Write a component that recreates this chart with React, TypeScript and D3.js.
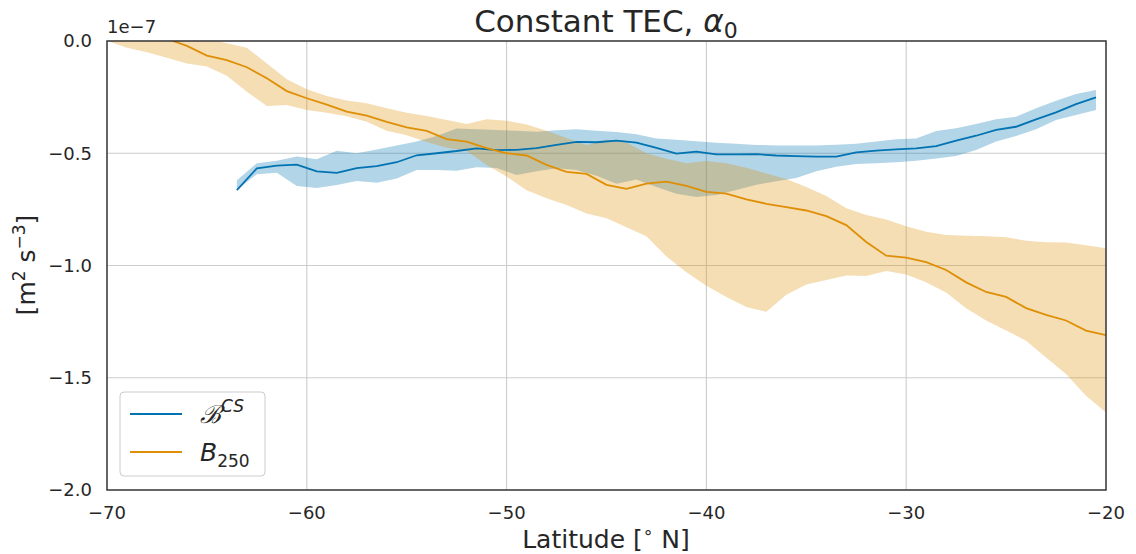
import React from 'react';
import * as d3 from 'd3';

// Latitude grids
const latOrange: number[] = d3.range(-70, -19.5, 1);
const latBlue: number[] = d3.range(-63.5, -20, 1);

// B^CS mean and band (units of 1e-7)
const blueMean: number[] = [
  -0.664, -0.567, -0.555, -0.551, -0.581, -0.587, -0.566, -0.557, -0.54, -0.509,
  -0.5, -0.49, -0.478, -0.486, -0.485, -0.477, -0.463, -0.449, -0.451, -0.444,
  -0.453, -0.476, -0.502, -0.493, -0.505, -0.505, -0.504, -0.51, -0.513, -0.515,
  -0.515, -0.496, -0.488, -0.483, -0.478, -0.468, -0.444, -0.422, -0.396, -0.382,
  -0.349, -0.318, -0.281, -0.251,
];
const blueUpper: number[] = [
  -0.62, -0.545, -0.533, -0.515, -0.527, -0.489, -0.5, -0.483, -0.466, -0.448,
  -0.423, -0.39, -0.393, -0.396, -0.4, -0.404, -0.398, -0.393, -0.4, -0.405,
  -0.415, -0.434, -0.44, -0.446, -0.453, -0.458, -0.463, -0.465, -0.466, -0.465,
  -0.462, -0.458, -0.448, -0.438, -0.434, -0.401, -0.389, -0.37, -0.349, -0.337,
  -0.3, -0.266, -0.236, -0.218,
];
const blueLower: number[] = [
  -0.664, -0.593, -0.587, -0.646, -0.655, -0.641, -0.624, -0.631, -0.613, -0.575,
  -0.575, -0.578, -0.562, -0.566, -0.597, -0.58, -0.567, -0.575, -0.6, -0.636,
  -0.617, -0.65, -0.68, -0.695, -0.686, -0.664, -0.64, -0.625, -0.61, -0.58,
  -0.56, -0.548, -0.545, -0.54, -0.533, -0.523, -0.512, -0.486, -0.448, -0.423,
  -0.393, -0.352, -0.33, -0.307,
];

// B_250 mean and band
const orangeMean: number[] = [
  0.08, 0.06, 0.04, 0.01, -0.022, -0.065, -0.085, -0.117, -0.166, -0.223,
  -0.255, -0.283, -0.315, -0.332, -0.36, -0.385, -0.4, -0.437, -0.448, -0.477,
  -0.5, -0.51, -0.552, -0.583, -0.592, -0.641, -0.659, -0.635, -0.626, -0.645,
  -0.672, -0.68, -0.705, -0.725, -0.74, -0.755, -0.78, -0.82, -0.895, -0.956,
  -0.965, -0.985, -1.02, -1.075, -1.118, -1.14, -1.19, -1.22, -1.245, -1.29,
  -1.31,
];
const orangeUpper: number[] = [
  0.1, 0.1, 0.1, 0.08, 0.04, 0.01, -0.01, -0.03, -0.1, -0.17,
  -0.215, -0.245, -0.265, -0.277, -0.3, -0.32, -0.334, -0.352, -0.37, -0.349,
  -0.355, -0.372, -0.4, -0.432, -0.463, -0.44, -0.452, -0.5, -0.525, -0.545,
  -0.535, -0.545, -0.565, -0.59, -0.615, -0.65, -0.69, -0.745, -0.775, -0.795,
  -0.825, -0.85, -0.864, -0.868, -0.87, -0.874, -0.89, -0.896, -0.898, -0.91,
  -0.923,
];
const orangeLower: number[] = [
  0.0, -0.03, -0.05, -0.075, -0.1, -0.114, -0.155, -0.226, -0.29, -0.285,
  -0.307, -0.32, -0.335, -0.36, -0.4, -0.42, -0.45, -0.475, -0.49, -0.552,
  -0.604, -0.665, -0.7, -0.73, -0.768, -0.79, -0.83, -0.87, -0.96, -1.03,
  -1.09, -1.14, -1.185, -1.206, -1.13, -1.085, -1.065, -1.045, -1.047, -1.025,
  -1.04, -1.075, -1.12, -1.19, -1.245, -1.29, -1.335, -1.41, -1.483, -1.58,
  -1.655,
];

const xTicks: number[] = [-70, -60, -50, -40, -30, -20];
const yTicks: number[] = [0, -0.5, -1.0, -1.5, -2.0];

const BLUE = '#0173b2';
const ORANGE = '#de8f05';
const TEXT = '#262626';
const FONT = '"DejaVu Sans", sans-serif';

type Pt = { x: number; m: number; lo: number; hi: number };

export default function App() {
  const width = 1136;
  const height = 554;
  const left = 107;
  const right = 1106;
  const top = 41;
  const bottom = 490;

  const x = d3.scaleLinear().domain([-70, -20]).range([left, right]);
  const y = d3.scaleLinear().domain([-2, 0]).range([bottom, top]);

  const blue: Pt[] = latBlue.map((l, i) => ({ x: l, m: blueMean[i], lo: blueLower[i], hi: blueUpper[i] }));
  const orange: Pt[] = latOrange.map((l, i) => ({ x: l, m: orangeMean[i], lo: orangeLower[i], hi: orangeUpper[i] }));

  const area = d3
    .area<Pt>()
    .x((d) => x(d.x))
    .y0((d) => y(d.lo))
    .y1((d) => y(d.hi));
  const line = d3
    .line<Pt>()
    .x((d) => x(d.x))
    .y((d) => y(d.m));

  return (
    <svg
      width={width}
      height={height}
      style={{ position: 'absolute', left: 0, top: 0, background: '#fff' }}
      fontFamily={FONT}
    >
      <defs>
        <clipPath id='plot'>
          <rect x={left} y={top} width={right - left} height={bottom - top} />
        </clipPath>
      </defs>

      {/* grid */}
      {xTicks.slice(1, -1).map((t) => (
        <line key={'gx' + t} x1={x(t)} x2={x(t)} y1={top} y2={bottom} stroke='#cccccc' strokeWidth={1.1} />
      ))}
      {yTicks.slice(1, -1).map((t) => (
        <line key={'gy' + t} x1={left} x2={right} y1={y(t)} y2={y(t)} stroke='#cccccc' strokeWidth={1.1} />
      ))}

      <g clipPath='url(#plot)'>
        <path d={area(blue) ?? ''} fill={BLUE} fillOpacity={0.3} />
        <path d={area(orange) ?? ''} fill={ORANGE} fillOpacity={0.3} />
        <path d={line(blue) ?? ''} fill='none' stroke={BLUE} strokeWidth={1.8} />
        <path d={line(orange) ?? ''} fill='none' stroke={ORANGE} strokeWidth={1.8} />
      </g>

      {/* frame */}
      <rect x={left} y={top} width={right - left} height={bottom - top} fill='none' stroke='#333333' strokeWidth={1.5} />

      {/* x ticks */}
      {xTicks.map((t) => (
        <text key={'tx' + t} x={x(t)} y={519} textAnchor='middle' fontSize={18} fill={TEXT}>
          {d3.format('d')(t).replace('-', '\u2212')}
        </text>
      ))}
      {/* y ticks */}
      {yTicks.map((t) => (
        <text key={'ty' + t} x={92} y={y(t)} dy='0.35em' textAnchor='end' fontSize={18} fill={TEXT}>
          {d3.format('.1f')(t).replace('-', '\u2212')}
        </text>
      ))}
      <text x={left} y={33} fontSize={18} fill={TEXT}>1e{'\u2212'}7</text>

      {/* title */}
      <text x={606} y={32} textAnchor='middle' fontSize={31} fill={TEXT}>
        Constant TEC,{' '}
        <tspan fontStyle='italic'>α</tspan>
        <tspan fontSize={22} dy={6}>0</tspan>
      </text>

      {/* axis labels */}
      <text x={606} y={548} textAnchor='middle' fontSize={25} fill={TEXT}>
        Latitude [<tspan fontSize={17} dy={-10}>∘</tspan>
        <tspan dy={10}> N]</tspan>
      </text>
      <text transform='translate(35,265) rotate(-90)' textAnchor='middle' fontSize={25} fill={TEXT}>
        [m<tspan fontSize={17} dy={-10}>2</tspan>
        <tspan dy={10}> s</tspan>
        <tspan fontSize={17} dy={-10}>{'\u2212'}3</tspan>
        <tspan dy={10}>]</tspan>
      </text>

      {/* legend */}
      <g>
        <rect x={120} y={392} width={145} height={84} rx={4} fill='#ffffff' fillOpacity={0.8} stroke='#cccccc' strokeWidth={1} />
        <line x1={130} x2={182} y1={414} y2={414} stroke={BLUE} strokeWidth={1.8} />
        <text x={200} y={423} fontSize={25} fill={TEXT}>
          <tspan fontFamily='"DejaVu Serif", serif' fontStyle='italic'>ℬ</tspan>
          <tspan fontSize={17} dy={-11} fontStyle='italic'>CS</tspan>
        </text>
        <line x1={130} x2={182} y1={452} y2={452} stroke={ORANGE} strokeWidth={1.8} />
        <text x={200} y={461} fontSize={25} fill={TEXT}>
          <tspan fontStyle='italic'>B</tspan>
          <tspan fontSize={17} dy={6}>250</tspan>
        </text>
      </g>
    </svg>
  );
}
